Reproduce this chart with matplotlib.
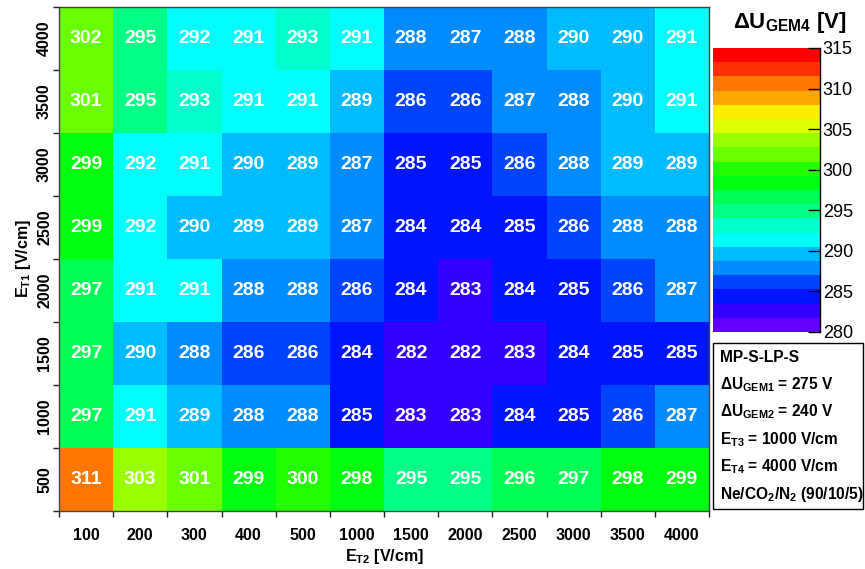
import colorsys
import numpy as np
import matplotlib
matplotlib.use("Agg")
import matplotlib.pyplot as plt
from matplotlib.colors import ListedColormap, BoundaryNorm
from matplotlib.patches import Rectangle
from matplotlib.lines import Line2D

plt.rcParams["font.family"] = ["Liberation Sans", "DejaVu Sans"]
plt.rcParams["mathtext.fontset"] = "custom"
plt.rcParams["mathtext.rm"] = "Liberation Sans:bold"
plt.rcParams["mathtext.it"] = "Liberation Sans:bold"
plt.rcParams["mathtext.bf"] = "Liberation Sans:bold"

# Transfer fields (V/cm)
e_t2 = ["100", "200", "300", "400", "500", "1000", "1500", "2000",
        "2500", "3000", "3500", "4000"]
e_t1 = ["500", "1000", "1500", "2000", "2500", "3000", "3500", "4000"]

# Delta U_GEM4 (V) for each E_T1 row, ordered along E_T2
u_500 = [311, 303, 301, 299, 300, 298, 295, 295, 296, 297, 298, 299]
u_1000 = [297, 291, 289, 288, 288, 285, 283, 283, 284, 285, 286, 287]
u_1500 = [297, 290, 288, 286, 286, 284, 282, 282, 283, 284, 285, 285]
u_2000 = [297, 291, 291, 288, 288, 286, 284, 283, 284, 285, 286, 287]
u_2500 = [299, 292, 290, 289, 289, 287, 284, 284, 285, 286, 288, 288]
u_3000 = [299, 292, 291, 290, 289, 287, 285, 285, 286, 288, 289, 289]
u_3500 = [301, 295, 293, 291, 291, 289, 286, 286, 287, 288, 290, 291]
u_4000 = [302, 295, 292, 291, 293, 291, 288, 287, 288, 290, 290, 291]

z_min, z_max, n_levels = 280, 315, 20

grid = np.array([u_500, u_1000, u_1500, u_2000, u_2500, u_3000, u_3500, u_4000], float)

# Rainbow palette: 50 HLS hues from violet to red, 20 contour levels picked from it
n_pal = 50
palette = [colorsys.hls_to_rgb((280 - (i + 1) * 280 / n_pal) / 360, 0.5, 1.0) for i in range(n_pal)]
level_cols = [palette[int((j + 0.99) * n_pal / n_levels)] for j in range(n_levels)]
cmap = ListedColormap(level_cols)
bounds = np.linspace(z_min, z_max, n_levels + 1)
norm = BoundaryNorm(bounds, cmap.N)

W, H = 865, 569
fig = plt.figure(figsize=(W / 100, H / 100), dpi=100)

def fx(px):
    return px / W

def fy(py):
    return 1 - py / H

ax = fig.add_axes([fx(59), fy(511), fx(709) - fx(59), fy(7) - fy(511)])
mesh = ax.pcolormesh(np.arange(len(e_t2) + 1), np.arange(len(e_t1) + 1), grid,
                     cmap=cmap, norm=norm)
ax.set_xlim(0, len(e_t2))
ax.set_ylim(0, len(e_t1))

for r in range(len(e_t1)):
    for c in range(len(e_t2)):
        ax.text(c + 0.5, r + 0.5, f"{grid[r, c]:.0f}", ha="center", va="center",
                color="white", fontsize=14, fontweight="bold")

ax.set_xticks(np.arange(len(e_t2)) + 0.5)
ax.set_xticklabels(e_t2, fontsize=11.5, fontweight="bold")
ax.set_yticks(np.arange(len(e_t1)) + 0.5)
ax.set_yticklabels(e_t1, fontsize=11.5, fontweight="bold", rotation=90, va="center")
ax.set_xticks(np.arange(len(e_t2) + 1), minor=True)
ax.set_yticks(np.arange(len(e_t1) + 1), minor=True)
ax.tick_params(axis="x", which="major", length=0, pad=12)
ax.tick_params(axis="y", which="major", length=0, pad=5)
ax.tick_params(which="minor", length=4, width=1, direction="out", color="#222222")
for s in ax.spines.values():
    s.set_color("#444444")
    s.set_linewidth(1)

ax.set_xlabel(r"E$_{T2}$ [V/cm]", fontsize=11.5, fontweight="bold", labelpad=3)
ax.set_ylabel(r"E$_{T1}$ [V/cm]", fontsize=11.5, fontweight="bold", labelpad=3)

# Colour scale
cax = fig.add_axes([fx(713), fy(332), fx(820) - fx(713), fy(48) - fy(332)])
cb = fig.colorbar(mesh, cax=cax, ticks=np.arange(z_min, z_max + 1, 5))
cb.outline.set_visible(False)
cax.add_line(Line2D([1, 1], [0, 1], transform=cax.transAxes, color="black", lw=1,
                    clip_on=False))
cax.tick_params(direction="in", length=9, width=1, pad=2, labelsize=13, right=True)
cax.minorticks_off()

fig.text(fx(790), fy(28), r"$\Delta$U$_{GEM4}$ [V]", ha="center", va="baseline",
         fontsize=16, fontweight="bold")

# Settings box
fig.add_artist(Rectangle((fx(713), fy(509)), fx(863) - fx(713), fy(343) - fy(509),
                         transform=fig.transFigure, facecolor="white",
                         edgecolor="black", lw=1))
info = ["MP-S-LP-S",
        r"$\Delta$U$_{GEM1}$ = 275 V",
        r"$\Delta$U$_{GEM2}$ = 240 V",
        r"E$_{T3}$ = 1000 V/cm",
        r"E$_{T4}$ = 4000 V/cm",
        r"Ne/CO$_2$/N$_2$ (90/10/5)"]
for i, line in enumerate(info):
    fig.text(fx(720), fy(357 + i * 27.5), line, ha="left", va="center",
             fontsize=11.2, fontweight="bold")

fig.savefig("out.png", dpi=100)
